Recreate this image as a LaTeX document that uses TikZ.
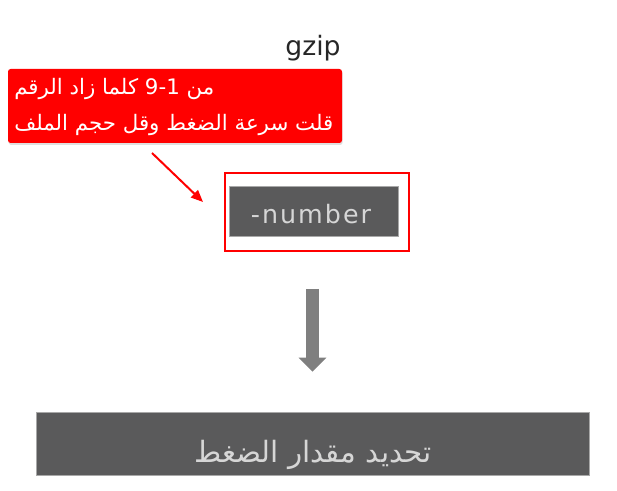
\documentclass[tikz,border=0pt]{standalone}
\usepackage{fontspec}
\setmainfont{DejaVu Sans}
\newfontfamily\arabicfont[Script=Arabic]{DejaVu Sans}
\TeXXeTstate=1
\usetikzlibrary{arrows,arrows.meta,shadows}
\definecolor{boxgray}{HTML}{5A5A5B}
\definecolor{textgray}{HTML}{D6D6D6}
\definecolor{arrowgray}{HTML}{7F7F7F}
\definecolor{rimgray}{HTML}{A8A8A8}
\definecolor{inkgray}{HTML}{262626}

\begin{document}
\begin{tikzpicture}[x=0.75pt,y=-0.75pt,
    darkbox/.style={fill=boxgray,draw=rimgray,line width=0.4pt,inner sep=0pt},
    notetext/.style={anchor=base west,text=white,inner sep=0pt,
      font=\arabicfont\fontsize{16}{20}\selectfont}]
    \useasboundingbox (0,0) rectangle (617,491);

    \node[text=inkgray,font=\fontsize{20}{24}\selectfont] (gzip) at (313,48) {gzip};

    % red note with its two lines
    \node[fill=red,rounded corners=2pt,minimum width=250.5pt,minimum height=55.5pt,
      drop shadow={shadow xshift=0.5pt,shadow yshift=-1.5pt,opacity=0.25}] (note) at (175,106) {};
    \node[notetext] (lineA) at (14,95) {\beginR من \beginL 9-1\endL{} كلما زاد الرقم\endR};
    \node[notetext] (lineB) at (14,131) {\beginR قلت سرعة الضغط وقل حجم الملف\endR};

    \node[draw=red,line width=1.5pt,minimum width=138pt,minimum height=58.5pt] (frame) at (317,212) {};
    \node[darkbox,minimum width=126.75pt,minimum height=37.5pt] (num) at (313.5,211) {};
    \node[anchor=base,text=textgray,inner sep=0pt,
      font=\addfontfeatures{LetterSpace=8}\fontsize{19}{22}\selectfont] (numtext) at (311,224) {-number};

    \node[darkbox,minimum width=414.75pt,minimum height=47.25pt] (result) at (312.5,443.5) {};
    \node[anchor=base,text=textgray,inner sep=0pt,
      font=\arabicfont\fontsize{22}{26}\selectfont] (resulttext) at (313,462)
      {\beginR تحديد مقدار الضغط\endR};

    \coordinate (tail) at (152,153);
    \coordinate (tip) at (203,202);
    \draw[red,line width=1.5pt,-{Triangle[length=9pt,width=7.5pt]}] (tail) -- (tip);

    \draw[arrowgray,line width=9.75pt,-{Triangle[width=20.25pt,length=10.5pt]},
      shorten <=27.75pt,shorten >=30pt] (result.north |- frame.south) -- (result.north);
\end{tikzpicture}
\end{document}
